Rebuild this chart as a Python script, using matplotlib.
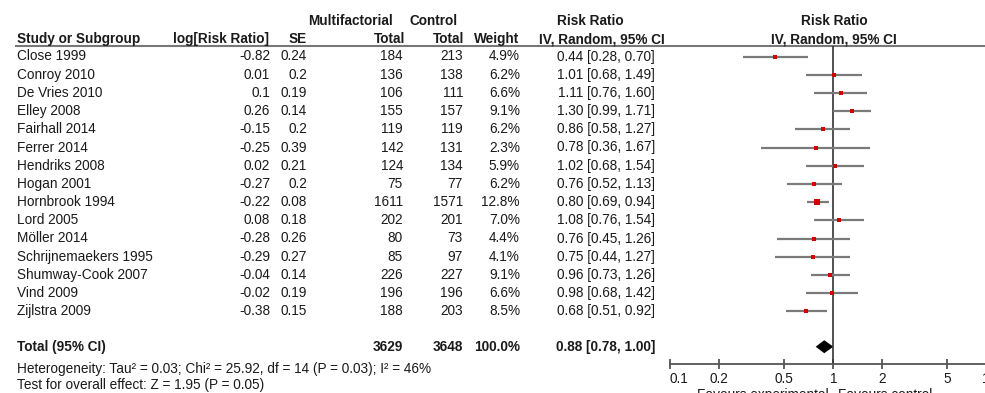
import numpy as np
import matplotlib
matplotlib.use("Agg")
import matplotlib.pyplot as plt

plt.rcParams['font.family'] = ['Liberation Sans', 'DejaVu Sans']

# study data
studies = ["Close 1999", "Conroy 2010", "De Vries 2010", "Elley 2008", "Fairhall 2014",
           "Ferrer 2014", "Hendriks 2008", "Hogan 2001", "Hornbrook 1994", "Lord 2005",
           "Möller 2014", "Schrijnemaekers 1995", "Shumway-Cook 2007", "Vind 2009",
           "Zijlstra 2009"]
log_rr = [-0.82, 0.01, 0.1, 0.26, -0.15, -0.25, 0.02, -0.27, -0.22, 0.08,
          -0.28, -0.29, -0.04, -0.02, -0.38]
se = [0.24, 0.2, 0.19, 0.14, 0.2, 0.39, 0.21, 0.2, 0.08, 0.18,
      0.26, 0.27, 0.14, 0.19, 0.15]
n_multi = [184, 136, 106, 155, 119, 142, 124, 75, 1611, 202, 80, 85, 226, 196, 188]
n_ctrl = [213, 138, 111, 157, 119, 131, 134, 77, 1571, 201, 73, 97, 227, 196, 203]
weight = [4.9, 6.2, 6.6, 9.1, 6.2, 2.3, 5.9, 6.2, 12.8, 7.0, 4.4, 4.1, 9.1, 6.6, 8.5]
rr = [0.44, 1.01, 1.11, 1.30, 0.86, 0.78, 1.02, 0.76, 0.80, 1.08, 0.76, 0.75, 0.96, 0.98, 0.68]
ci_lo = [0.28, 0.68, 0.76, 0.99, 0.58, 0.36, 0.68, 0.52, 0.69, 0.76, 0.45, 0.44, 0.73, 0.68, 0.51]
ci_hi = [0.70, 1.49, 1.60, 1.71, 1.27, 1.67, 1.54, 1.13, 0.94, 1.54, 1.26, 1.27, 1.26, 1.42, 0.92]

total_multi = 3629
total_ctrl = 3648
total_weight = 100.0
total_rr = 0.88
total_lo = 0.78
total_hi = 1.00

heterogeneity = "Heterogeneity: Tau² = 0.03; Chi² = 25.92, df = 14 (P = 0.03); I² = 46%"
overall = "Test for overall effect: Z = 1.95 (P = 0.05)"
xticks = [0.1, 0.2, 0.5, 1, 2, 5, 10]
xticklabels = ["0.1", "0.2", "0.5", "1", "2", "5", "10"]

W, H = 985, 393
fig = plt.figure(figsize=(W / 100, H / 100), dpi=100)

# text layer in pixel coordinates
ax = fig.add_axes([0, 0, 1, 1])
ax.set_xlim(0, W)
ax.set_ylim(H, 0)
ax.axis('off')

fs = 9.8
tc = '#1a1a1a'
row0, dy = 56.5, 18.2
rows = row0 + dy * np.arange(len(studies))
y_total = 346.7

# headers
ax.text(393, 21, "Multifactorial", ha='right', va='center', fontsize=fs, weight='bold', color=tc)
ax.text(410, 21, "Control", ha='left', va='center', fontsize=fs, weight='bold', color=tc)
ax.text(590, 21, "Risk Ratio", ha='center', va='center', fontsize=fs, weight='bold', color=tc)
ax.text(834, 21, "Risk Ratio", ha='center', va='center', fontsize=fs, weight='bold', color=tc)
h2 = 39
ax.text(17, h2, "Study or Subgroup", ha='left', va='center', fontsize=fs, weight='bold', color=tc)
ax.text(269, h2, "log[Risk Ratio]", ha='right', va='center', fontsize=fs, weight='bold', color=tc)
ax.text(307, h2, "SE", ha='right', va='center', fontsize=fs, weight='bold', color=tc)
ax.text(405, h2, "Total", ha='right', va='center', fontsize=fs, weight='bold', color=tc)
ax.text(464, h2, "Total", ha='right', va='center', fontsize=fs, weight='bold', color=tc)
ax.text(519, h2, "Weight", ha='right', va='center', fontsize=fs, weight='bold', color=tc)
ax.text(665, h2, "IV, Random, 95% CI", ha='right', va='center', fontsize=fs, weight='bold', color=tc)
ax.text(834, h2, "IV, Random, 95% CI", ha='center', va='center', fontsize=fs, weight='bold', color=tc)
ax.hlines(46, 15, W, color='#777777', lw=1.5)

# study rows
for i, y in enumerate(rows):
    ax.text(17, y, studies[i], ha='left', va='center', fontsize=fs, color=tc)
    ax.text(270, y, f"{log_rr[i]:g}", ha='right', va='center', fontsize=fs, color=tc)
    ax.text(307, y, f"{se[i]:g}", ha='right', va='center', fontsize=fs, color=tc)
    ax.text(403, y, f"{n_multi[i]}", ha='right', va='center', fontsize=fs, color=tc)
    ax.text(463, y, f"{n_ctrl[i]}", ha='right', va='center', fontsize=fs, color=tc)
    ax.text(520, y, f"{weight[i]:.1f}%", ha='right', va='center', fontsize=fs, color=tc)
    ax.text(655, y, f"{rr[i]:.2f} [{ci_lo[i]:.2f}, {ci_hi[i]:.2f}]", ha='right', va='center',
            fontsize=fs, color=tc)

# total row
ax.text(17, y_total, "Total (95% CI)", ha='left', va='center', fontsize=fs, weight='bold', color=tc)
ax.text(403, y_total, f"{total_multi}", ha='right', va='center', fontsize=fs, weight='bold', color=tc)
ax.text(463, y_total, f"{total_ctrl}", ha='right', va='center', fontsize=fs, weight='bold', color=tc)
ax.text(520, y_total, f"{total_weight:.1f}%", ha='right', va='center', fontsize=fs, weight='bold', color=tc)
ax.text(655, y_total, f"{total_rr:.2f} [{total_lo:.2f}, {total_hi:.2f}]", ha='right', va='center',
        fontsize=fs, weight='bold', color=tc)
ax.text(17, 369.5, heterogeneity, ha='left', va='center', fontsize=fs, color=tc)
ax.text(17, 385, overall, ha='left', va='center', fontsize=fs, color=tc)

# forest plot, log x from 0.1 to 10 (right end falls off the figure)
x0, x1 = 670, 996.6
fx = fig.add_axes([x0 / W, 0, (x1 - x0) / W, 1])
fx.set_xscale('log')
fx.set_xlim(0.1, 10)
fx.set_ylim(H, 0)
fx.patch.set_visible(False)
for s in ['top', 'right', 'left']:
    fx.spines[s].set_visible(False)
y_axis = 364
fx.spines['bottom'].set_position(('data', y_axis))
fx.spines['bottom'].set_color('#555555')
fx.spines['bottom'].set_linewidth(1.3)
fx.set_yticks([])
fx.set_xticks(xticks)
fx.set_xticklabels(xticklabels)
fx.minorticks_off()
fx.tick_params(axis='x', direction='inout', length=7, width=1.3, color='#555555',
               labelsize=fs, labelcolor=tc, pad=2.5)
tl = fx.get_xticklabels()
tl[0].set_ha('left')
tl[-1].set_ha('right')

fx.vlines(1, 46, y_axis, color='#333333', lw=1.2)
fx.hlines(rows, ci_lo, ci_hi, color='#7a7a7a', lw=1.6)
for i, y in enumerate(rows):
    fx.plot(rr[i], y, 's', color='#d40000', ms=2.4 + 0.13 * weight[i], mew=0)

dh = 6.5
fx.fill([total_lo, total_rr, total_hi, total_rr], [y_total, y_total - dh, y_total, y_total + dh],
        color='black', lw=0)

fx.text(0.93, 388, "Favours experimental", ha='right', va='top', fontsize=fs, color=tc)
fx.text(1.07, 388, "Favours control", ha='left', va='top', fontsize=fs, color=tc)

fig.savefig("out.png", dpi=100)
